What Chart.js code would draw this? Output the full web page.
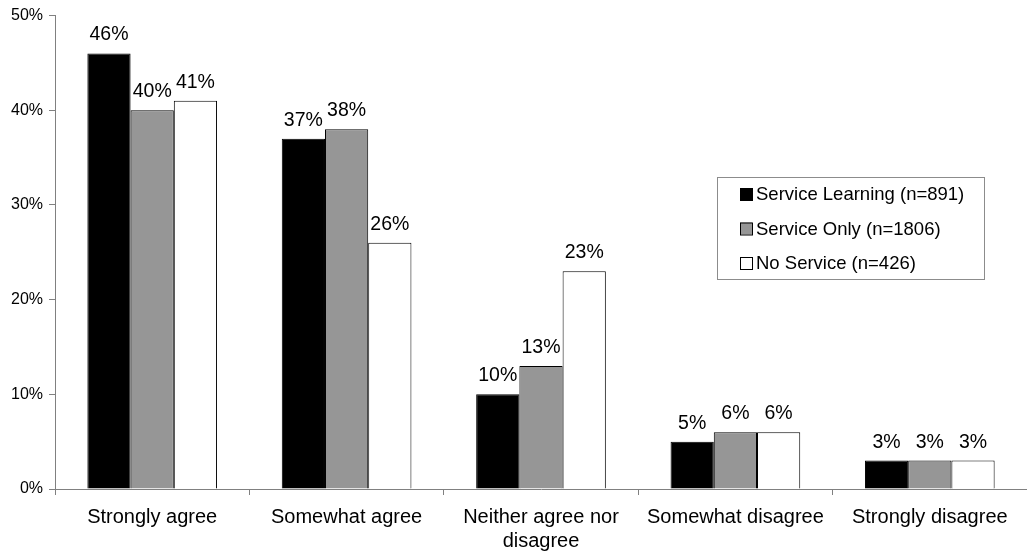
<!DOCTYPE html>
<html>
<head>
<meta charset="utf-8">
<title>Agreement by service group</title>
<script src="https://cdn.jsdelivr.net/npm/chart.js@4/dist/chart.umd.min.js"></script>
<style>
  html, body { margin: 0; padding: 0; background: #fff; }
  #wrap { width: 1027px; height: 554px; }
</style>
</head>
<body>
<div id="wrap"><canvas id="bar-chart"></canvas></div>
<script>
const categories = [
  "Strongly agree",
  "Somewhat agree",
  ["Neither agree nor", "disagree"],
  "Somewhat disagree",
  "Strongly disagree"
];
const seriesNames = [
  "Service Learning (n=891)",
  "Service Only (n=1806)",
  "No Service (n=426)"
];
const serviceLearning = [46, 37, 10, 5, 3];
const serviceOnly = [40, 38, 13, 6, 3];
const noService = [41, 26, 23, 6, 3];
const yTicks = [0, 10, 20, 30, 40, 50];

const font = "'Liberation Sans', Arial, sans-serif";

// value labels above each bar
const valueLabels = {
  id: 'valueLabels',
  afterDatasetsDraw(chart) {
    const ctx = chart.ctx;
    ctx.save();
    ctx.font = '19.5px ' + font;
    ctx.fillStyle = '#000';
    ctx.textAlign = 'center';
    ctx.textBaseline = 'alphabetic';
    chart.data.datasets.forEach((ds, i) => {
      chart.getDatasetMeta(i).data.forEach((bar, j) => {
        ctx.fillText(ds.data[j] + '%', bar.x, bar.y - 13);
      });
    });
    ctx.restore();
  }
};

// boxed legend sitting inside the plot
const boxLegend = {
  id: 'boxLegend',
  afterDraw(chart) {
    const ctx = chart.ctx;
    const x = 717, y = 177, w = 267, h = 102;
    ctx.save();
    ctx.fillStyle = '#fff';
    ctx.fillRect(x, y, w, h);
    ctx.strokeStyle = '#8c8c8c';
    ctx.lineWidth = 1;
    ctx.strokeRect(x + 0.5, y + 0.5, w, h);
    ctx.font = '18.5px ' + font;
    ctx.textBaseline = 'middle';
    chart.data.datasets.forEach((ds, i) => {
      const cy = 194 + i * 34.5;
      ctx.fillStyle = ds.backgroundColor;
      ctx.fillRect(740, cy - 6, 12, 12);
      ctx.strokeStyle = '#000';
      ctx.strokeRect(740.5, cy - 5.5, 12, 12);
      ctx.fillStyle = '#000';
      ctx.fillText(ds.label, 756, cy + 1);
    });
    ctx.restore();
  }
};

const colors = ['#000000', '#969696', '#ffffff'];
const values = [serviceLearning, serviceOnly, noService];

new Chart(document.getElementById('bar-chart'), {
  type: 'bar',
  data: {
    labels: categories,
    datasets: seriesNames.map((name, i) => ({
      label: name,
      data: values[i],
      backgroundColor: colors[i],
      borderColor: '#000',
      borderWidth: 1,
      categoryPercentage: 0.667,
      barPercentage: 1
    }))
  },
  options: {
    responsive: true,
    maintainAspectRatio: false,
    animation: false,
    layout: { padding: { top: 14, right: 0, left: 0, bottom: 0 } },
    plugins: {
      legend: { display: false },
      tooltip: { enabled: false }
    },
    scales: {
      x: {
        grid: {
          offset: true,
          drawOnChartArea: false,
          drawTicks: true,
          tickLength: 6,
          color: '#808080'
        },
        border: { color: '#808080', width: 1 },
        ticks: {
          color: '#000',
          font: { family: font, size: 20 },
          padding: 10,
          maxRotation: 0,
          autoSkip: false
        },
        afterFit(scale) { scale.height = 65; }
      },
      y: {
        min: 0,
        max: 50,
        afterBuildTicks(scale) { scale.ticks = yTicks.map(v => ({ value: v })); },
        grid: {
          drawOnChartArea: false,
          drawTicks: true,
          tickLength: 6,
          color: '#808080'
        },
        border: { color: '#808080', width: 1 },
        ticks: {
          color: '#000',
          font: { family: font, size: 16 },
          padding: 6,
          callback: v => v + '%'
        },
        afterFit(scale) { scale.width = 55; }
      }
    }
  },
  plugins: [valueLabels, boxLegend]
});
</script>
</body>
</html>
